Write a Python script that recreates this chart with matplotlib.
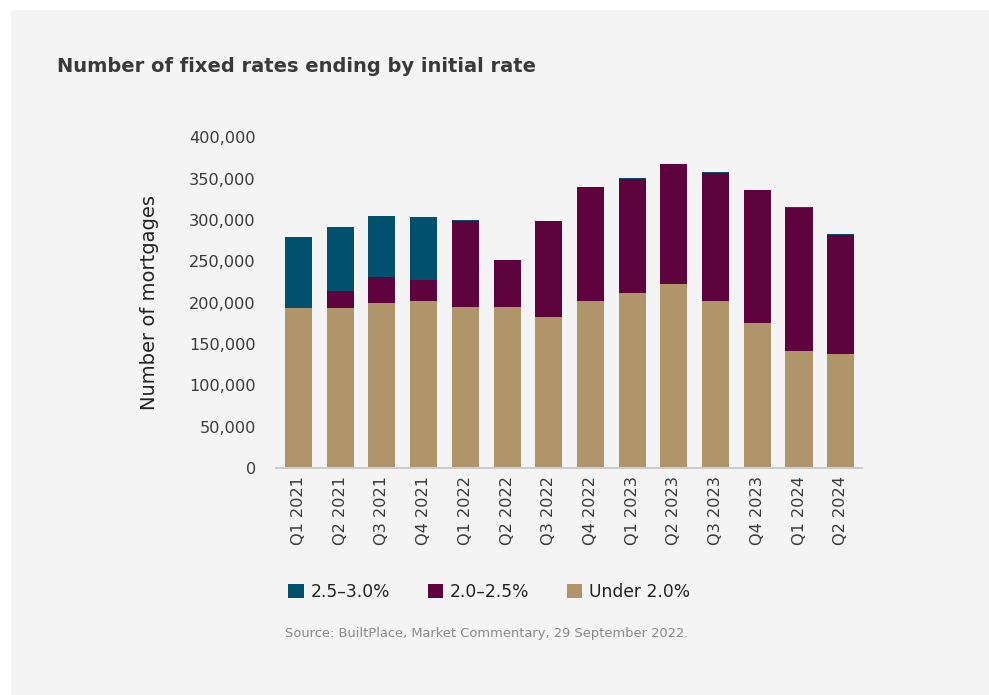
import matplotlib
matplotlib.use("Agg")
import matplotlib.pyplot as plt
from matplotlib.patches import Rectangle
from matplotlib.ticker import FuncFormatter
import numpy as np

quarters = ["Q1 2021", "Q2 2021", "Q3 2021", "Q4 2021", "Q1 2022", "Q2 2022", "Q3 2022",
            "Q4 2022", "Q1 2023", "Q2 2023", "Q3 2023", "Q4 2023", "Q1 2024", "Q2 2024"]
under_2 = [193500, 193500, 199000, 202000, 194500, 194500, 183000,
           202000, 211500, 223000, 202000, 175000, 141500, 138000]
rate_2_25 = [0, 20500, 32000, 25000, 104000, 57000, 115500,
             138000, 137500, 145000, 154500, 161000, 173000, 143500]
rate_25_3 = [85500, 77000, 74000, 76000, 1500, 0, 0,
             0, 1300, 0, 1200, 0, 1000, 1200]

labels = ["2.5\u20133.0%", "2.0\u20132.5%", "Under 2.0%"]
colors = {"high": "#00506E", "mid": "#5E033D", "low": "#B0956A"}

W, H = 989, 695
fig = plt.figure(figsize=(W / 100, H / 100), dpi=100)
fig.patch.set_facecolor("white")
fig.patches.append(Rectangle((11 / W, 0), 1 - 11 / W, 1 - 10 / H, transform=fig.transFigure,
                             facecolor="#F4F4F4", edgecolor="none", zorder=-10))

ax = fig.add_axes([276 / W, 227 / H, (862 - 276) / W, (468 - 137.3) / H])
ax.set_facecolor("none")

x = np.arange(len(quarters))
w = 0.65
low = np.array(under_2)
mid = np.array(rate_2_25)
high = np.array(rate_25_3)
b1 = ax.bar(x, low, w, color=colors["low"], label=labels[2])
b2 = ax.bar(x, mid, w, bottom=low, color=colors["mid"], label=labels[1])
b3 = ax.bar(x, high, w, bottom=low + mid, color=colors["high"], label=labels[0])

ax.set_xlim(-0.54, len(quarters) - 0.49)
ax.set_ylim(0, 400000)
ax.set_yticks(np.arange(0, 400001, 50000))
ax.yaxis.set_major_formatter(FuncFormatter(lambda v, p: f"{int(v):,}"))
ax.set_xticks(x)
ax.set_xticklabels(quarters, rotation=90)
for s in ["top", "right", "left"]:
    ax.spines[s].set_visible(False)
ax.spines["bottom"].set_color("#CCCCCC")
ax.spines["bottom"].set_linewidth(1.5)
ax.tick_params(axis="both", length=0, colors="#3A3A3A", labelsize=11.6)
ax.tick_params(axis="y", pad=14.5)
ax.tick_params(axis="x", pad=6)
ax.set_ylabel("Number of mortgages", fontsize=14, color="#222222", labelpad=22)

fig.text(57 / W, 1 - 67 / H, "Number of fixed rates ending by initial rate", fontsize=14,
         fontweight="bold", color="#3A3A3A", va="center", ha="left")

fig.legend(handles=[b3, b2, b1], labels=labels, loc="center left",
           bbox_to_anchor=(273 / W, 1 - 592 / H), ncol=3, frameon=False,
           fontsize=12.3, handlelength=0.9, handleheight=0.9, handletextpad=0.4,
           columnspacing=2.2, labelcolor="#222222")

fig.text(285 / W, 1 - 634 / H, "Source: BuiltPlace, Market Commentary, 29 September 2022.",
         fontsize=9.4, color="#8A8A8A", va="center", ha="left")

fig.savefig("out.png", dpi=100, facecolor=fig.get_facecolor())
